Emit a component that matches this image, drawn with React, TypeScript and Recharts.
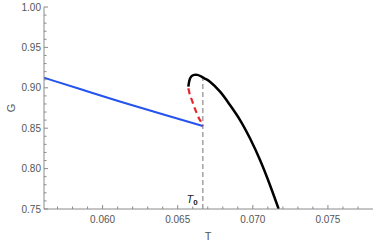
import { LineChart, Line, XAxis, YAxis, ReferenceLine, ReferenceDot, Label } from "recharts";

const blueT = [0.0561, 0.0585, 0.0612, 0.064, 0.06667];
const blueG = [0.9125, 0.8985, 0.8828, 0.8672, 0.8527];

const redT = [0.06571, 0.0658, 0.06594, 0.0661, 0.06627, 0.06645, 0.0666, 0.06667];
const redG = [0.8994, 0.892, 0.8849, 0.8765, 0.8684, 0.861, 0.8561, 0.8527];

const blackT = [0.06571, 0.06577, 0.0659, 0.0661, 0.0663, 0.0665, 0.0668, 0.06715, 0.06782, 0.06848, 0.06915, 0.06981, 0.07048, 0.07114, 0.07172];
const blackG = [0.9014, 0.9085, 0.914, 0.916, 0.916, 0.9146, 0.9115, 0.9076, 0.8952, 0.8787, 0.8601, 0.8375, 0.8106, 0.7797, 0.75];

const T0 = 0.06667;
const T0_TOP = 0.912;

const xTicks = [0.057, 0.058, 0.059, 0.06, 0.061, 0.062, 0.063, 0.064, 0.065, 0.066, 0.067, 0.068, 0.069, 0.07, 0.071, 0.072, 0.073, 0.074, 0.075, 0.076, 0.077];
const xMajor = [0.06, 0.065, 0.07, 0.075];
const yTicks = [0.75, 0.76, 0.77, 0.78, 0.79, 0.8, 0.81, 0.82, 0.83, 0.84, 0.85, 0.86, 0.87, 0.88, 0.89, 0.9, 0.91, 0.92, 0.93, 0.94, 0.95, 0.96, 0.97, 0.98, 0.99, 1.0];
const yMajor = [0.75, 0.8, 0.85, 0.9, 0.95, 1.0];

const toRows = (ts: number[], gs: number[]) => ts.map((t, i) => ({ T: t, G: gs[i] }));

const AXIS = "#8a8a8a";
const LABEL = "#555555";
const FONT = "'Liberation Sans', Arial, sans-serif";

const isMajor = (list: number[], v: number) => list.some((m) => Math.abs(m - v) < 1e-9);

function XTick(props: any) {
  const { x, y, payload } = props;
  const major = isMajor(xMajor, payload.value);
  return (
    <g>
      <line x1={x} y1={y} x2={x} y2={y - (major ? 4 : 2.5)} stroke={AXIS} strokeWidth={1} />
      {major && (
        <text x={x} y={y + 14} textAnchor="middle" fontSize={10} fill={LABEL} fontFamily={FONT}>
          {payload.value.toFixed(3)}
        </text>
      )}
    </g>
  );
}

function YTick(props: any) {
  const { x, y, payload } = props;
  const major = isMajor(yMajor, payload.value);
  return (
    <g>
      <line x1={x} y1={y} x2={x + (major ? 4 : 2.5)} y2={y} stroke={AXIS} strokeWidth={1} />
      {major && (
        <text x={x - 3} y={y + 3.6} textAnchor="end" fontSize={10} fill={LABEL} fontFamily={FONT}>
          {payload.value.toFixed(2)}
        </text>
      )}
    </g>
  );
}

export default function App() {
  return (
    <div style={{ position: "absolute", left: 0, top: 0 }}>
      <LineChart width={374} height={248} margin={{ top: 7, right: 1, bottom: 0, left: 0 }}>
        <XAxis
          type="number"
          dataKey="T"
          domain={[0.0561, 0.078]}
          ticks={xTicks}
          allowDataOverflow
          height={39}
          stroke={AXIS}
          tickSize={0}
          tickMargin={0}
          tickLine={false}
          tick={<XTick />}
          interval={0}
        >
          <Label
            content={() => (
              <text x={208} y={240} textAnchor="middle" fontSize={11} fill={LABEL} fontFamily={FONT}>
                T
              </text>
            )}
          />
        </XAxis>
        <YAxis
          type="number"
          dataKey="G"
          domain={[0.75, 1.0]}
          ticks={yTicks}
          allowDataOverflow
          width={44}
          stroke={AXIS}
          tickSize={0}
          tickMargin={0}
          tickLine={false}
          tick={<YTick />}
          interval={0}
        >
          <Label
            content={() => (
              <text x={11} y={108} transform="rotate(-90 11 108)" textAnchor="middle" dominantBaseline="central" fontSize={11} fill={LABEL} fontFamily={FONT}>
                G
              </text>
            )}
          />
        </YAxis>
        <ReferenceLine
          segment={[{ x: T0, y: 0.75 }, { x: T0, y: T0_TOP }]}
          stroke="#a8a8a8"
          strokeWidth={1.6}
          strokeDasharray="5 3"
        />
        <Line data={toRows(blueT, blueG)} dataKey="G" type="monotone" stroke="#2453f0" strokeWidth={2} dot={false} isAnimationActive={false} />
        <Line data={toRows(redT, redG)} dataKey="G" type="monotone" stroke="#e8262a" strokeWidth={2.2} strokeDasharray="6 4" dot={false} isAnimationActive={false} />
        <Line data={toRows(blackT, blackG)} dataKey="G" type="natural" stroke="#000" strokeWidth={2.5} dot={false} isAnimationActive={false} />
        <ReferenceDot
          x={T0}
          y={0.762}
          r={0}
          shape={(p: any) => (
            <text x={p.cx - 5} y={p.cy + 4} textAnchor="end" fill="#222" fontFamily={FONT}>
              <tspan fontSize={11} fontStyle="italic">T</tspan>
              <tspan fontSize={8} fontWeight="bold" dy={2}>0</tspan>
            </text>
          )}
        />
      </LineChart>
    </div>
  );
}
